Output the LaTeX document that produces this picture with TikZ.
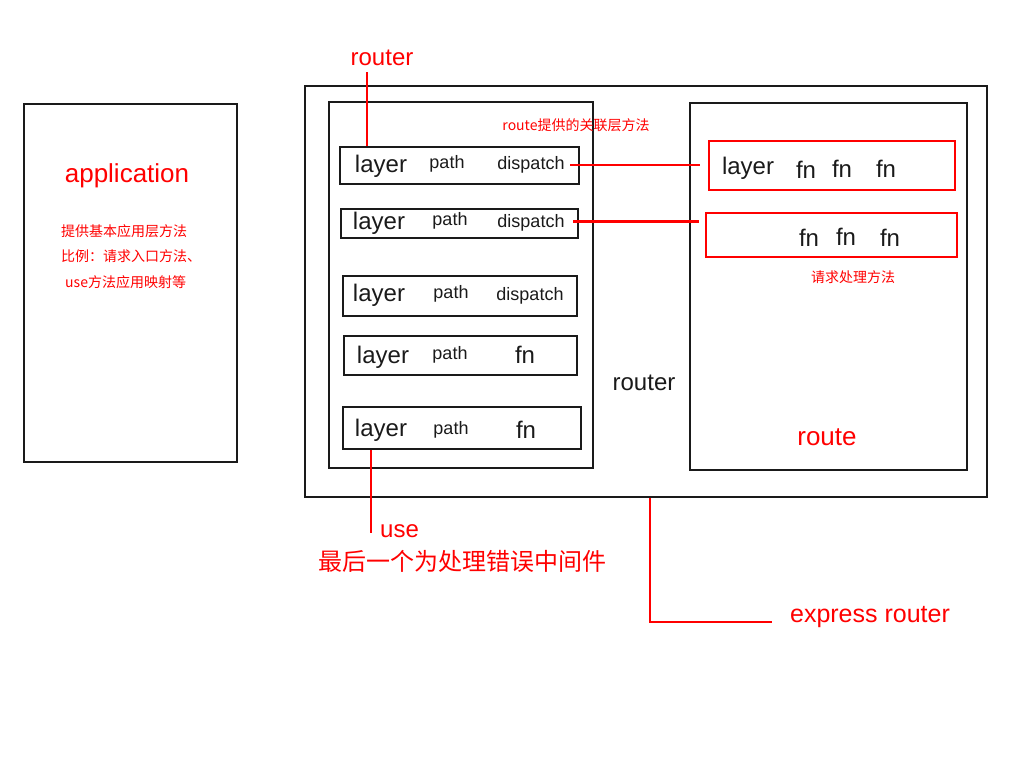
\documentclass[tikz,border=0pt]{standalone}
\usepackage{fontspec}
\setmainfont{Liberation Sans}
\newfontfamily\cjk{Noto Sans CJK SC}
\definecolor{myred}{RGB}{255,0,0}
\definecolor{myblack}{RGB}{26,26,26}
\begin{document}
\begin{tikzpicture}[x=1pt,y=-1pt,
  bbox/.style={draw=myblack,line width=2pt,inner sep=0pt},
  rbox/.style={draw=myred,line width=2pt,inner sep=0pt},
  redline/.style={draw=myred,line width=2pt},
  lbl/.style={inner sep=0pt,text=myblack},
  rlbl/.style={inner sep=0pt,text=myred},
  big/.style={font=\fontsize{24}{26}\selectfont},
  mid/.style={font=\fontsize{18}{20}\selectfont},
  small/.style={font=\cjk\fontsize{14}{16}\selectfont}]
\useasboundingbox (0,0) rectangle (1024,768);
% boxes
\node[bbox,minimum width=213pt,minimum height=358pt] (app) at (130.5,283) {};
\node[bbox,minimum width=682pt,minimum height=411pt] (outer) at (646,291.5) {};
\node[bbox,minimum width=264pt,minimum height=366pt] (inner) at (461,285) {};
\node[bbox,minimum width=239pt,minimum height=37pt] (l1) at (459.5,165.5) {};
\node[bbox,minimum width=237pt,minimum height=29pt] (l2) at (459.5,223.5) {};
\node[bbox,minimum width=234pt,minimum height=40pt] (l3) at (460,296) {};
\node[bbox,minimum width=233pt,minimum height=39pt] (l4) at (460.5,355.5) {};
\node[bbox,minimum width=238pt,minimum height=42pt] (l5) at (462,428) {};
\node[bbox,minimum width=277pt,minimum height=367pt] (rt) at (828.5,286.5) {};
\node[rbox,minimum width=246pt,minimum height=49pt] (r1) at (832,165.5) {};
\node[rbox,minimum width=251pt,minimum height=44pt] (r2) at (831.5,235) {};
% application texts
\node[rlbl,font=\fontsize{26}{28}\selectfont] (apptitle) at (127,176) {application};
\node[rlbl,small,anchor=west] (appd1) at (61,231) {提供基本应用层方法};
\node[rlbl,small,anchor=west] (appd2) at (61,256) {比例：请求入口方法、};
\node[rlbl,small,anchor=west] (appd3) at (65,282) {use方法应用映射等};
% router label top
\node[rlbl,big] (routertop) at (382,58) {router};
\coordinate (rtline) at (367,72);
\draw[redline] (rtline) -- (rtline |- l1.north);
\node[rlbl,small] (assoc) at (576,125) {route提供的关联层方法};
% layer rows
\node[lbl,big] (l1a) at (381,166) {layer};
\node[lbl,mid] (l1b) at (447,164) {path};
\node[lbl,mid] (l1c) at (531,165) {dispatch};
\node[lbl,big] (l2a) at (379,223) {layer};
\node[lbl,mid] (l2b) at (450,221) {path};
\node[lbl,mid] (l2c) at (531,223) {dispatch};
\node[lbl,big] (l3a) at (379,295) {layer};
\node[lbl,mid] (l3b) at (451,294) {path};
\node[lbl,mid] (l3c) at (530,296) {dispatch};
\node[lbl,big] (l4a) at (383,357) {layer};
\node[lbl,mid] (l4b) at (450,355) {path};
\node[lbl,big] (l4c) at (525,355) {fn};
\node[lbl,big] (l5a) at (381,430) {layer};
\node[lbl,mid] (l5b) at (451,430) {path};
\node[lbl,big] (l5c) at (526,430) {fn};
% route box texts
\node[lbl,big] (r1a) at (748,168) {layer};
\node[lbl,big] (r1b) at (806,170) {fn};
\node[lbl,big] (r1c) at (842,169) {fn};
\node[lbl,big] (r1d) at (886,169) {fn};
\node[lbl,big] (r2b) at (809,238) {fn};
\node[lbl,big] (r2c) at (846,237) {fn};
\node[lbl,big] (r2d) at (890,238) {fn};
\node[rlbl,small] (reqh) at (853,277) {请求处理方法};
\node[lbl,big] (routermid) at (644,383) {router};
\node[rlbl,font=\fontsize{26}{28}\selectfont] (routelbl) at (827,437) {route};
% connectors
\coordinate (c1) at (570,165);
\draw[redline] (c1) -- (c1 -| 700,0);
\coordinate (c2) at (573,221);
\draw[redline,line width=3pt] (c2) -- (c2 -| 699,0);
\coordinate (u1) at (371,533);
\draw[redline] (u1 |- l5.south) -- (u1);
\node[rlbl,big,anchor=west] (uselbl) at (380,531) {use};
\node[rlbl,font=\cjk\fontsize{24}{26}\selectfont] (errmw) at (462,561) {最后一个为处理错误中间件};
\coordinate (e1) at (650,622);
\coordinate (e2) at (772,622);
\draw[redline] (e1 |- outer.south) -- (e1) -- (e2);
\node[rlbl,font=\fontsize{25}{27}\selectfont] (express) at (870,617) {express router};
\end{tikzpicture}
\end{document}
